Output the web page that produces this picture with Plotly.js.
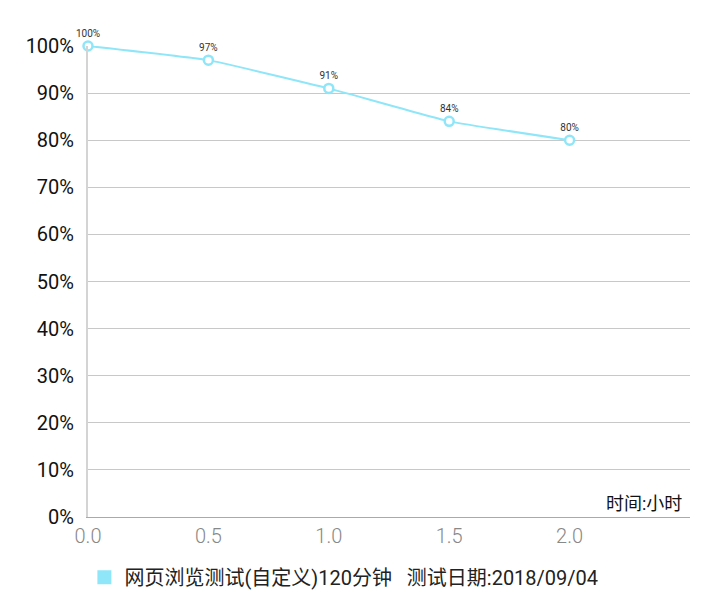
<!DOCTYPE html>
<html>
<head>
<meta charset="utf-8">
<script src="https://cdn.plot.ly/plotly-3.0.1.min.js"></script>
<style>html,body{margin:0;padding:0;background:#fff}#chart{width:720px;height:597px}</style>
</head>
<body>
<div id="chart"></div>
<script>
var hours = [0, 0.5, 1.0, 1.5, 2.0];
var percents = [100, 97, 91, 84, 80];
var pointLabels = ['100%', '97%', '91%', '84%', '80%'];
var xTicks = [0, 0.5, 1.0, 1.5, 2.0];
var xTickLabels = ['0.0', '0.5', '1.0', '1.5', '2.0'];
var yTicks = [0, 10, 20, 30, 40, 50, 60, 70, 80, 90, 100];
var yTickLabels = yTicks.map(function (v) { return v + '%'; });
var seriesName = '网页浏览测试(自定义)120分钟&nbsp;&nbsp;&nbsp;测试日期:2018/09/04';
var lineColor = '#8fe6f8';

var traces = [
  {
    x: hours, y: percents, text: pointLabels,
    type: 'scatter', mode: 'lines+markers+text',
    line: {color: lineColor, width: 2, shape: 'spline', smoothing: 0.3},
    marker: {symbol: 'circle', size: 9, color: '#ffffff', line: {color: lineColor, width: 2.5}},
    textposition: 'top center',
    textfont: {family: 'Roboto, sans-serif', size: 10, color: '#333333'},
    cliponaxis: false, showlegend: false, hoverinfo: 'skip'
  },
  {
    x: [null], y: [null], type: 'scatter', mode: 'markers',
    name: seriesName,
    marker: {symbol: 'square', size: 14, color: lineColor},
    showlegend: true
  }
];

var layout = {
  width: 720, height: 597,
  margin: {l: 88, r: 30, t: 46, b: 80, autoexpand: false},
  paper_bgcolor: '#ffffff', plot_bgcolor: '#ffffff',
  font: {family: 'Roboto, "Noto Sans CJK SC", sans-serif'},
  xaxis: {
    range: [0, 2.5], tickvals: xTicks, ticktext: xTickLabels,
    showgrid: false, zeroline: false, showline: true, linecolor: '#aaaaaa', linewidth: 1,
    ticks: '', ticklabelstandoff: 1,
    tickfont: {family: 'Roboto, sans-serif', size: 20, weight: 300, color: '#888888'},
    fixedrange: true
  },
  yaxis: {
    range: [0, 100], tickvals: yTicks, ticktext: yTickLabels,
    showgrid: true, gridcolor: '#c8c8c8', gridwidth: 1,
    zeroline: false, showline: true, linecolor: '#d4d4d4', linewidth: 2,
    ticks: '', ticklabelstandoff: 8,
    tickfont: {family: 'Roboto, sans-serif', size: 20, color: '#111111'},
    fixedrange: true
  },
  legend: {
    orientation: 'h', x: -0.006, xanchor: 'left', y: -0.128, yanchor: 'middle',
    font: {family: 'Roboto, "Noto Sans CJK SC", sans-serif', size: 20, color: '#222222'}
  },
  annotations: [
    {
      text: '时间:小时', xref: 'paper', yref: 'paper', x: 1, y: 0.028,
      xanchor: 'right', yanchor: 'middle', xshift: -6, showarrow: false,
      font: {family: 'Roboto, "Noto Sans CJK SC", sans-serif', size: 18, color: '#111111'}
    }
  ],
  showlegend: true
};

Plotly.newPlot('chart', traces, layout, {displayModeBar: false, staticPlot: true});
</script>
</body>
</html>
